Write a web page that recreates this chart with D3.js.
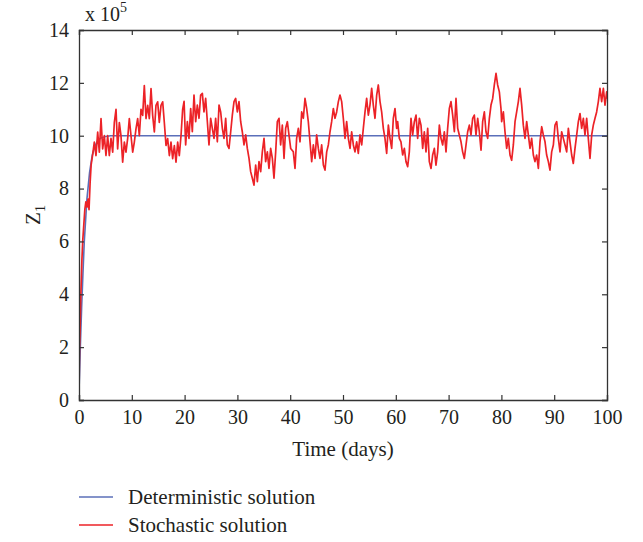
<!DOCTYPE html>
<html>
<head>
<meta charset="utf-8">
<script src="https://cdnjs.cloudflare.com/ajax/libs/d3/7.8.5/d3.min.js"></script>
<style>
  body { margin: 0; background: #fff; }
  text { font-family: "Liberation Serif", "Times New Roman", serif; fill: #231f20; }
</style>
</head>
<body>
<svg id="chart" width="643" height="542"></svg>
<script>
// x axis / y axis ticks
let xTicks = [0, 10, 20, 30, 40, 50, 60, 70, 80, 90, 100];
let yTicks = [0, 2, 4, 6, 8, 10, 12, 14];

// deterministic solution (x 10^5)
let detTime = [0, 0.25, 0.5, 0.75, 1, 1.5, 2, 2.5, 3, 3.5, 4, 5, 6, 8, 100];
let detValue = [0.3, 2.0, 3.5, 4.8, 6.0, 7.6, 8.6, 9.25, 9.6, 9.8, 9.9, 9.97, 10, 10, 10];

// stochastic solution (x 10^5)
let stochTime = [
  0, 0.05, 0.1, 0.2, 0.3, 0.4, 0.55, 0.7, 0.9, 1.1, 1.3, 1.5, 1.7, 1.9, 2.1, 2.3,
  2.6, 2.9, 3.22, 3.54, 3.85, 4.17, 4.48, 4.8, 5.11, 5.43, 5.74, 6.06, 6.38, 6.69, 7.01, 7.32,
  7.64, 7.95, 8.27, 8.59, 8.9, 9.22, 9.53, 9.85, 10.17, 10.48, 10.8, 11.11, 11.43, 11.74, 12.06, 12.37,
  12.69, 13.01, 13.32, 13.64, 13.95, 14.27, 14.58, 14.9, 15.21, 15.53, 15.85, 16.16, 16.48, 16.79, 17.11, 17.42,
  17.74, 18.06, 18.37, 18.69, 19.0, 19.32, 19.63, 19.9, 20.2, 20.52, 20.83, 21.15, 21.46, 21.78, 22.1, 22.41,
  22.73, 23.04, 23.36, 23.67, 23.99, 24.31, 24.62, 24.94, 25.25, 25.57, 25.88, 26.2, 26.52, 26.83, 27.15, 27.46,
  27.78, 28.09, 28.41, 28.73, 29.04, 29.36, 29.67, 29.99, 30.3, 30.62, 30.93, 31.25, 31.57, 31.88, 32.2, 32.51,
  32.83, 33.14, 33.46, 33.78, 34.09, 34.41, 34.72, 35.04, 35.35, 35.67, 35.98, 36.3, 36.62, 36.93, 37.25, 37.56,
  37.88, 38.19, 38.51, 38.83, 39.14, 39.46, 39.77, 40.09, 40.59, 40.91, 41.22, 41.54, 41.86, 42.17, 42.49, 42.8,
  43.12, 43.43, 43.75, 44.07, 44.38, 44.7, 45.01, 45.33, 45.64, 45.96, 46.28, 46.59, 46.91, 47.22, 47.54, 47.85,
  48.17, 48.48, 48.8, 49.12, 49.43, 49.75, 50.06, 50.38, 50.69, 51.01, 51.33, 51.64, 51.96, 52.27, 52.59, 52.9,
  53.22, 53.54, 53.85, 54.17, 54.48, 54.8, 55.11, 55.43, 55.74, 56.06, 56.38, 56.69, 57.01, 57.32, 57.64, 57.95,
  58.27, 58.59, 58.9, 59.22, 59.53, 59.85, 60.16, 60.35, 60.67, 60.98, 61.3, 61.62, 61.93, 62.25, 62.56, 62.88,
  63.19, 63.51, 63.83, 64.14, 64.46, 64.77, 65.09, 65.4, 65.72, 66.04, 66.35, 66.67, 66.98, 67.3, 67.61, 67.93,
  68.25, 68.56, 68.88, 69.19, 69.51, 69.82, 70.14, 70.45, 70.77, 71.09, 71.4, 71.72, 72.03, 72.35, 72.66, 72.98,
  73.3, 73.61, 73.93, 74.24, 74.56, 74.87, 75.19, 75.51, 75.82, 76.14, 76.45, 76.77, 77.08, 77.4, 77.72, 78.03,
  78.35, 78.66, 78.98, 79.29, 79.61, 79.92, 80.05, 80.37, 80.68, 81.0, 81.31, 81.63, 81.94, 82.26, 82.58, 82.89,
  83.21, 83.52, 83.84, 84.15, 84.47, 84.79, 85.1, 85.42, 85.73, 86.05, 86.36, 86.68, 87.0, 87.31, 87.63, 87.94,
  88.26, 88.57, 88.89, 89.2, 89.52, 89.84, 90.15, 90.47, 90.78, 91.1, 91.41, 91.73, 92.05, 92.36, 92.68, 92.99,
  93.31, 93.62, 93.94, 94.26, 94.57, 94.89, 95.2, 95.52, 95.83, 96.15, 96.46, 96.78, 97.1, 97.41, 97.73, 98.04,
  98.36, 98.67, 98.99, 99.31, 99.62, 99.94, 100
];
let stochValue = [
  0.1, 1.2, 2.0, 2.6, 3.6, 4.3, 5.3, 6.0, 6.6, 7.2, 7.5, 7.3, 7.6, 7.2, 8.2, 8.9,
  9.3, 9.76, 9.25, 10.14, 9.38, 10.65, 9.5, 10.0, 9.25, 10.0, 9.25, 9.9, 9.38, 10.5, 11.0, 9.5,
  10.5, 10.0, 9.0, 9.76, 9.38, 9.9, 10.65, 10.0, 9.38, 9.76, 10.27, 10.65, 10.0, 11.0, 10.77, 11.9,
  10.65, 11.15, 10.65, 11.78, 10.77, 10.14, 11.15, 11.28, 10.5, 11.15, 11.28, 10.5, 9.63, 9.89, 9.25, 9.76,
  9.13, 9.63, 9.0, 9.76, 9.25, 10.0, 11.0, 11.3, 9.65, 10.53, 9.9, 11.03, 10.15, 11.54, 10.53, 11.16,
  10.66, 11.54, 11.6, 10.9, 11.41, 10.53, 9.65, 10.66, 10.28, 9.9, 10.66, 9.77, 11.16, 10.9, 10.28, 9.9,
  10.66, 9.65, 9.52, 10.15, 10.78, 11.29, 11.41, 10.9, 11.29, 10.53, 10.15, 9.65, 10.03, 9.52, 9.14, 8.64,
  8.39, 8.13, 8.89, 8.26, 9.02, 8.64, 9.39, 9.9, 9.02, 9.39, 8.76, 9.52, 9.14, 8.39, 9.39, 10.53,
  10.66, 9.65, 10.4, 9.14, 10.28, 10.53, 10.03, 9.52, 9.39, 8.76, 9.9, 10.28, 9.77, 10.9, 10.66, 11.41,
  11.03, 10.53, 9.77, 9.02, 9.65, 9.14, 10.03, 9.52, 9.14, 9.65, 8.89, 8.7, 9.39, 9.65, 10.15, 10.53,
  11.03, 10.66, 10.9, 11.29, 11.54, 11.29, 10.66, 9.9, 10.53, 9.9, 9.52, 10.15, 9.65, 9.39, 9.77, 9.33,
  10.03, 9.65, 10.28, 10.9, 11.41, 10.78, 11.16, 11.79, 11.16, 10.66, 11.54, 11.92, 11.29, 10.9, 10.28, 9.9,
  9.33, 10.4, 9.9, 9.52, 10.66, 11.03, 10.28, 10.53, 9.9, 9.77, 9.27, 9.52, 9.02, 8.83, 9.39, 10.66,
  10.03, 10.53, 10.78, 9.9, 10.66, 10.4, 9.52, 10.15, 9.39, 10.28, 9.02, 8.76, 9.27, 9.52, 8.89, 9.39,
  10.4, 9.9, 9.65, 10.15, 9.39, 10.28, 11.03, 11.29, 10.78, 10.15, 11.41, 10.28, 10.03, 9.77, 9.39, 9.14,
  9.65, 10.15, 10.4, 10.03, 10.66, 10.78, 10.03, 10.66, 10.15, 9.45, 10.53, 10.9, 10.15, 9.9, 10.66, 11.16,
  11.41, 11.92, 12.36, 11.92, 11.66, 11.03, 10.53, 10.9, 10.15, 9.52, 9.9, 9.27, 9.07, 9.65, 10.53, 10.9,
  11.29, 11.79, 11.16, 10.4, 9.9, 10.53, 10.03, 9.52, 9.9, 9.27, 9.02, 9.27, 8.76, 9.77, 10.34, 10.03,
  9.77, 9.27, 9.02, 8.7, 9.39, 9.65, 10.4, 10.53, 9.9, 9.39, 10.15, 9.9, 9.65, 9.39, 10.28, 9.77,
  9.27, 8.95, 9.52, 10.03, 10.53, 10.84, 10.28, 10.66, 10.03, 10.66, 9.9, 9.14, 10.03, 10.4, 10.66, 10.9,
  11.29, 11.79, 11.29, 11.79, 11.16, 11.66, 11.4
];

let legendNames = ["Deterministic solution", "Stochastic solution"];
let colors = ["#5b6fb9", "#ec2227"];

/**
 * Draws the whole chart
 */
function drawChart(){
    let svg = d3.select("#chart");
    let margin = {left: 79, top: 30, right: 36, bottom: 142};
    let width = 643 - margin.left - margin.right;
    let height = 542 - margin.top - margin.bottom;

    let x = d3.scaleLinear().domain([0, 100]).range([0, width]);
    let y = d3.scaleLinear().domain([0, 14]).range([height, 0]);

    let g = svg.append("g").attr("transform", `translate(${margin.left},${margin.top})`);

    // clip so lines stay in the box
    g.append("clipPath").attr("id", "clip")
        .append("rect").attr("width", width).attr("height", height);

    let line = d3.line()
        .x(d => x(d[0]))
        .y(d => y(d[1]));

    let detData = d3.zip(detTime, detValue);
    let stochData = d3.zip(stochTime, stochValue);

    g.append("path")
        .attr("d", line(detData))
        .attr("clip-path", "url(#clip)")
        .attr("fill", "none")
        .attr("stroke", colors[0])
        .attr("stroke-width", 1.6);

    g.append("path")
        .attr("d", line(stochData))
        .attr("clip-path", "url(#clip)")
        .attr("fill", "none")
        .attr("stroke", colors[1])
        .attr("stroke-width", 1.7)
        .attr("stroke-linejoin", "round");

    // axes: ticks point inward on all four sides
    let axisColor = "#333";
    let bottom = g.append("g").attr("transform", `translate(0,${height})`)
        .call(d3.axisBottom(x).tickValues(xTicks).tickSize(-5).tickPadding(10));
    let left = g.append("g")
        .call(d3.axisLeft(y).tickValues(yTicks).tickSize(-5).tickPadding(10));
    let top = g.append("g")
        .call(d3.axisTop(x).tickValues(xTicks).tickSize(-5).tickFormat(""));
    let right = g.append("g").attr("transform", `translate(${width},0)`)
        .call(d3.axisRight(y).tickValues(yTicks).tickSize(-5).tickFormat(""));

    for(let ax of [bottom, left, top, right]){
        ax.select(".domain").attr("stroke", axisColor).attr("stroke-width", 1.3);
        ax.selectAll(".tick line").attr("stroke", axisColor).attr("stroke-width", 1.2);
        ax.selectAll(".tick text")
            .style("font-family", "Liberation Serif, serif")
            .style("font-size", "20px")
            .attr("fill", "#231f20");
    }

    // scale factor above the y axis
    let mult = svg.append("text").attr("x", margin.left + 6).attr("y", 21)
        .style("font-size", "20px");
    mult.append("tspan").text("x 10");
    mult.append("tspan").attr("dy", -9).style("font-size", "14px").text("5");

    // axis titles
    let yLabel = svg.append("text")
        .attr("transform", `translate(40,${margin.top + height / 2}) rotate(-90)`)
        .attr("text-anchor", "middle")
        .style("font-size", "21px");
    yLabel.append("tspan").text("Z");
    yLabel.append("tspan").attr("dy", 5).style("font-size", "14px").text("1");

    svg.append("text")
        .attr("x", margin.left + width / 2).attr("y", 456)
        .attr("text-anchor", "middle")
        .style("font-size", "21px")
        .text("Time (days)");

    // legend
    let legend = svg.append("g").attr("transform", "translate(79,497)");
    legendNames.forEach((name, i) => {
        let row = legend.append("g").attr("transform", `translate(0,${i * 28})`);
        row.append("line").attr("x1", 0).attr("x2", 34)
            .attr("stroke", colors[i]).attr("stroke-width", 1.5);
        row.append("text").attr("x", 49).attr("y", 7)
            .style("font-size", "21px").text(name);
    });
}

drawChart();
</script>
</body>
</html>
